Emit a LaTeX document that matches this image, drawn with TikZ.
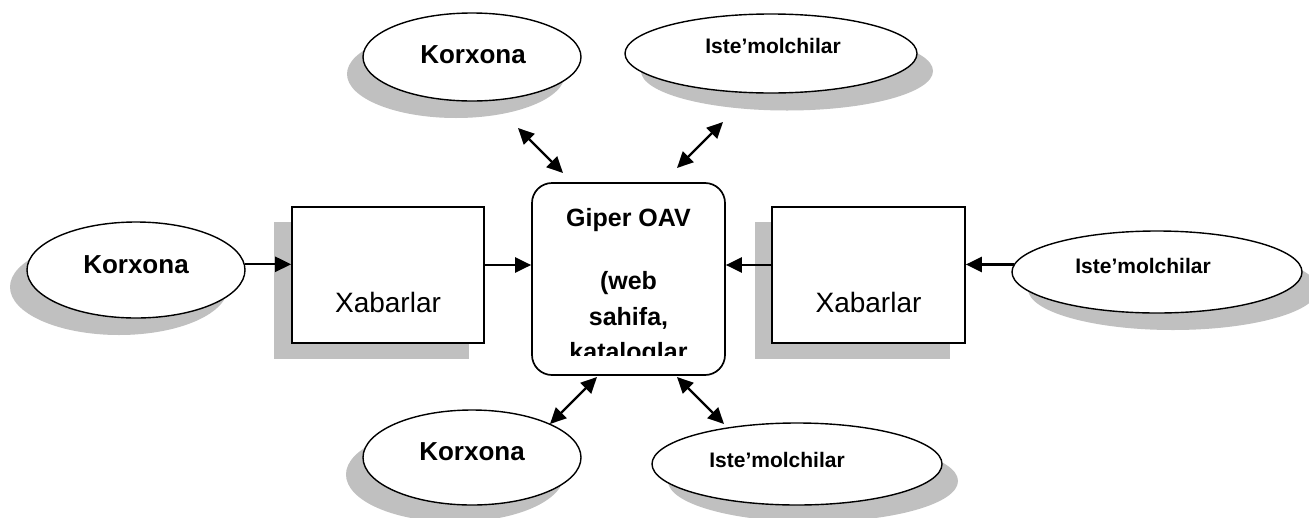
\documentclass[tikz,border=0pt]{standalone}
\usepackage{fontspec}
\setmainfont{Liberation Sans}
\usetikzlibrary{arrows.meta,shapes.geometric}
\definecolor{shadowgray}{HTML}{C0C0C0}
\tikzset{
  ell/.style={ellipse, draw=black, line width=1.4pt, fill=white, inner sep=0pt},
  ellsh/.style={ellipse, fill=shadowgray, inner sep=0pt},
  boxx/.style={rectangle, draw=black, line width=1.7pt, fill=white, inner sep=0pt},
  conn/.style={line width=2.3pt, -{Triangle[length=16pt,width=15pt]}},
  dconn/.style={line width=2.3pt, {Triangle[length=16pt,width=15pt]}-{Triangle[length=16pt,width=15pt]}},
  lbig/.style={font=\fontsize{26}{30}\selectfont\bfseries, anchor=base, inner sep=0pt},
  lsmall/.style={font=\fontsize{21}{25}\selectfont\bfseries, anchor=base, inner sep=0pt},
  lmid/.style={font=\fontsize{25}{30}\selectfont\bfseries, anchor=base, inner sep=0pt},
  lreg/.style={font=\fontsize{28}{32}\selectfont, anchor=base, inner sep=0pt},
}
\begin{document}
\begin{tikzpicture}[x=1pt,y=-1pt]
\useasboundingbox (0,0) rectangle (1309,517);
\fill[white] (0,0) rectangle (1309,517);

% shadows of ellipses
\node[ellsh, minimum width=218pt, minimum height=88pt] (tlsh) at (456,74) {};
\node[ellsh, minimum width=292pt, minimum height=79pt] (trsh) at (787,71) {};
\node[ellsh, minimum width=218pt, minimum height=96pt] (lsh) at (119,287) {};
\node[ellsh, minimum width=290pt, minimum height=82pt] (rsh) at (1173,289) {};
\node[ellsh, minimum width=218pt, minimum height=95pt] (blsh) at (455,474.5) {};
\node[ellsh, minimum width=290pt, minimum height=82pt] (brsh) at (813,481) {};

% ellipses
\node[ell, minimum width=218pt, minimum height=88pt] (tl) at (472,57) {};
\node[ell, minimum width=292pt, minimum height=79pt] (tr) at (771,53.5) {};
\node[ell, minimum width=218pt, minimum height=96pt] (l) at (136,270) {};
\node[ell, minimum width=290pt, minimum height=82pt] (r) at (1157,272) {};
\node[ell, minimum width=218pt, minimum height=95pt] (bl) at (472,457.5) {};
\node[ell, minimum width=290pt, minimum height=82pt] (br) at (797,464) {};

% ellipse texts
\node[lbig] (tlt) at (473,63) {Korxona};
\node[lsmall] (trt) at (773,53) {Iste’molchilar};
\node[lbig] (lt) at (136,273) {Korxona};
\node[lsmall] (rt) at (1143,273) {Iste’molchilar};
\node[lbig] (blt) at (472,460) {Korxona};
\node[lsmall] (brt) at (777,467) {Iste’molchilar};

% box shadows
\fill[shadowgray] (274,222) rectangle (469,359);
\fill[shadowgray] (755,222) rectangle (950,359);

% boxes
\node[boxx, minimum width=192pt, minimum height=136pt] (lb) at (388,275) {};
\node[boxx, minimum width=193pt, minimum height=136pt] (rb) at (868.5,275) {};
\node[lreg] (lbt) at (388,312) {Xabarlar};
\node[lreg] (rbt) at (868.5,312) {Xabarlar};

% centre box
\node[boxx, rounded corners=20pt, minimum width=193pt, minimum height=192pt] (c) at (628.5,279) {};
\begin{scope}
  \clip (533,184) rectangle (724,355);
  \node[lmid] (ct1) at (628.5,226.7) {Giper OAV};
  \node[lmid] (ct2) at (628.5,289) {(web};
  \node[lmid] (ct3) at (628.5,325) {sahifa,};
  \node[lmid] (ct4) at (628.5,360) {kataloglar};
\end{scope}

% horizontal connectors
\coordinate (hy) at (0,265);
\draw[conn] (l.3) -- (l.3 -| lb.west);
\draw[conn] (lb.east |- hy) -- (c.west |- hy);
\draw[conn] (r.177) -- (r.177 -| rb.east);
\draw[conn] (rb.west |- hy) -- (c.east |- hy);

% diagonal connectors
\coordinate (a1s) at (518,128);
\coordinate (a1e) at (563,173);
\coordinate (a2s) at (723,122);
\coordinate (a2e) at (677,168);
\coordinate (a3s) at (597,377);
\coordinate (a3e) at (550,424);
\coordinate (a4s) at (677,377);
\coordinate (a4e) at (724,424);
\draw[dconn] (a1s) -- (a1e);
\draw[dconn] (a2s) -- (a2e);
\draw[dconn] (a3s) -- (a3e);
\draw[dconn] (a4s) -- (a4e);
\end{tikzpicture}
\end{document}
